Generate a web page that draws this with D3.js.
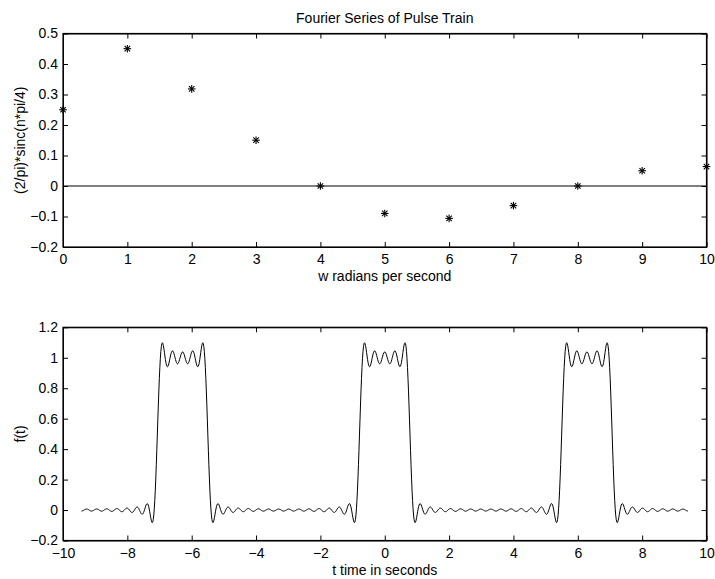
<!DOCTYPE html>
<html><head><meta charset="utf-8">
<script src="https://cdn.jsdelivr.net/npm/d3@7"></script>
<style>
body{margin:0;background:#fff;}
text{font-family:"Liberation Sans",Arial,Helvetica,sans-serif;fill:#000;}
</style></head>
<body>
<svg id="c" width="715" height="579"></svg>
<script>
// ---- data ----
const harmonicIndex = [0,1,2,3,4,5,6,7,8,9,10];
const coefficients = [0.25,0.4502,0.3183,0.1501,0,-0.0900,-0.1061,-0.0643,0,0.0500,0.0637];
// higher harmonics used in the synthesis (n = 11..20)
const higherIndex = [11,12,13,14,15,16,17,18,19,20];
const higherCoefficients = [0.0409,0,-0.0346,-0.0455,-0.0300,0,0.0265,0.0354,0.0237,0];
const topXTicks = [0,1,2,3,4,5,6,7,8,9,10];
const topYTicks = [-0.2,-0.1,0,0.1,0.2,0.3,0.4,0.5];
const botXTicks = [-10,-8,-6,-4,-2,0,2,4,6,8,10];
const botYTicks = [-0.2,0,0.2,0.4,0.6,0.8,1,1.2];
const timeRange = [-3*Math.PI, 3*Math.PI];
const titleText = "Fourier Series of Pulse Train";
const topXLabel = "w radians per second";
const topYLabel = "(2/pi)*sinc(n*pi/4)";
const botXLabel = "t time in seconds";
const botYLabel = "f(t)";

const svg = d3.select("#c");
const L = 63, R = 706.5;
const fs = 14;

function panel(top, bottom, xdom, ydom, xt, yt, yfmt) {
  const x = d3.scaleLinear().domain(xdom).range([L, R]);
  const y = d3.scaleLinear().domain(ydom).range([bottom, top]);
  const g = svg.append("g");
  const tl = 5;
  const fmtNum = v => (v < 0 ? "\u2212" : "") + yfmt(Math.abs(v));
  const ax = g.append("g").attr("transform", `translate(0,${bottom})`)
    .call(d3.axisBottom(x).tickValues(xt).tickSizeInner(-tl).tickSizeOuter(0).tickPadding(7.4)
      .tickFormat(v => (v < 0 ? "\u2212" : "") + Math.abs(v)));
  const ax2 = g.append("g").attr("transform", `translate(0,${top})`)
    .call(d3.axisTop(x).tickValues(xt).tickSizeInner(-tl).tickSizeOuter(0).tickFormat(""));
  const ay = g.append("g").attr("transform", `translate(${L},0)`)
    .call(d3.axisLeft(y).tickValues(yt).tickSizeInner(-tl).tickSizeOuter(0).tickPadding(5).tickFormat(fmtNum));
  const ay2 = g.append("g").attr("transform", `translate(${R},0)`)
    .call(d3.axisRight(y).tickValues(yt).tickSizeInner(-tl).tickSizeOuter(0).tickFormat(""));
  [ax, ax2, ay, ay2].forEach(a => {
    a.selectAll("path").attr("stroke", "#000").attr("stroke-width", 1);
    a.selectAll("line").attr("stroke", "#000").attr("stroke-width", 1);
    a.selectAll("text").attr("font-size", fs).attr("font-family", "Liberation Sans, Arial, sans-serif").attr("fill", "#000");
  });
  g.append("rect").attr("x", L).attr("y", top).attr("width", R - L).attr("height", bottom - top)
    .attr("fill", "none").attr("stroke", "#000").attr("stroke-width", 1.2);
  return {x, y, g};
}

// top panel
const p1 = panel(33.5, 247, [0, 10], [-0.2, 0.5], topXTicks, topYTicks, d3.format(".1f"));
p1.g.selectAll("g.tick text").filter(function(){return this.textContent==="0.0";}).text("0");
p1.g.append("line").attr("x1", p1.x(0)).attr("x2", p1.x(10)).attr("y1", p1.y(0)).attr("y2", p1.y(0))
  .attr("stroke", "#000").attr("stroke-width", 1);
const ms = 3.8;
const mk = p1.g.selectAll("g.mk").data(harmonicIndex.map((n, i) => ({n, v: coefficients[i]})))
  .enter().append("g").attr("class", "mk")
  .attr("transform", d => `translate(${p1.x(d.n)},${p1.y(d.v)})`);
[[0, -ms, 0, ms], [-ms, 0, ms, 0], [-ms*0.72, -ms*0.72, ms*0.72, ms*0.72], [-ms*0.72, ms*0.72, ms*0.72, -ms*0.72]]
  .forEach(s => mk.append("line").attr("x1", s[0]).attr("y1", s[1]).attr("x2", s[2]).attr("y2", s[3])
    .attr("stroke", "#000").attr("stroke-width", 1.1));

svg.append("text").attr("x", (L + R) / 2).attr("y", 22.5).attr("text-anchor", "middle").attr("font-size", fs).text(titleText);
svg.append("text").attr("x", (L + R) / 2).attr("y", 281).attr("text-anchor", "middle").attr("font-size", fs).text(topXLabel);
svg.append("text").attr("transform", `translate(25,${(33.5 + 247) / 2}) rotate(-90)`).attr("text-anchor", "middle").attr("font-size", fs).text(topYLabel);

// bottom panel
const p2 = panel(327.3, 540.5, [-10, 10], [-0.2, 1.2], botXTicks, botYTicks, d3.format("~g"));
const allN = harmonicIndex.concat(higherIndex);
const allC = coefficients.concat(higherCoefficients);
const ts = d3.range(0, 1201).map(i => timeRange[0] + (timeRange[1] - timeRange[0]) * i / 1200);
const series = ts.map(t => {
  let s = 0;
  allN.forEach((n, i) => { s += allC[i] * Math.cos(n * t); });
  return [t, s];
});
p2.g.append("path").datum(series)
  .attr("d", d3.line().x(d => p2.x(d[0])).y(d => p2.y(d[1])))
  .attr("fill", "none").attr("stroke", "#000").attr("stroke-width", 1);

svg.append("text").attr("x", (L + R) / 2).attr("y", 574.5).attr("text-anchor", "middle").attr("font-size", fs).text(botXLabel);
svg.append("text").attr("transform", `translate(25,${(327.3 + 540.5) / 2}) rotate(-90)`).attr("text-anchor", "middle").attr("font-size", fs).text(botYLabel);
</script>
</body></html>
